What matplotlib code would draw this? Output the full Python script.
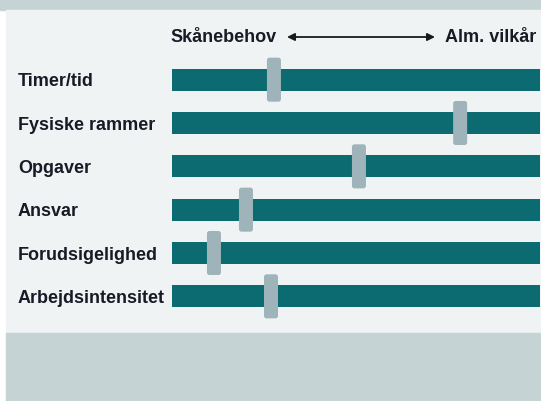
import matplotlib.pyplot as plt
from matplotlib.patches import FancyBboxPatch, Rectangle

categories = ["Timer/tid", "Fysiske rammer", "Opgaver", "Ansvar",
              "Forudsigelighed", "Arbejdsintensitet"]
# slider position: 0 = Skånebehov, 1 = Alm. vilkår
values = [0.277, 0.783, 0.508, 0.201, 0.114, 0.269]
left_label = "Skånebehov"
right_label = "Alm. vilkår"

bar_color = "#0b6b70"
slider_color = "#9fb4ba"
panel_color = "#eff3f4"
band_color = "#c5d3d4"
text_color = "#1a1a26"

plt.rcParams["font.family"] = ["Liberation Sans", "DejaVu Sans"]

W, H = 541, 401
fig = plt.figure(figsize=(W / 100, H / 100), dpi=100, facecolor="white")

# background bands
fig.patches.append(Rectangle((0, (H - 10) / H), 1, 10 / H, transform=fig.transFigure,
                             color=band_color, zorder=-2))
fig.patches.append(Rectangle((6 / W, (H - 333) / H), 1, 323 / H, transform=fig.transFigure,
                             color=panel_color, zorder=-2))
fig.patches.append(Rectangle((6 / W, 0), 1, 68 / H, transform=fig.transFigure,
                             color=band_color, zorder=-2))

ax = fig.add_axes([172 / W, (H - 318) / H, 368 / W, 260 / H])
ax.set_zorder(1)
ax.set_facecolor("none")
n = len(categories)
ypos = list(range(n))
ax.barh(ypos, [1] * n, left=0, height=0.51, color=bar_color, zorder=1)

sw, sh = 14 / 368, 44 / 43.3
aspect = 368 / 43.3
for y, v in zip(ypos, values):
    ax.add_patch(FancyBboxPatch((v - sw / 2, y - sh / 2), sw, sh,
                                boxstyle="round,pad=0,rounding_size=0.007",
                                mutation_aspect=aspect, facecolor=slider_color,
                                edgecolor="none", zorder=2, clip_on=False))

ax.set_xlim(0, 1)
ax.set_ylim(n - 0.5, -0.5)
for s in ax.spines.values():
    s.set_visible(False)
ax.set_xticks([])
ax.set_yticks(ypos)
ax.set_yticklabels(categories, fontsize=13, fontweight="bold", color=text_color,
                   ha="left")
ax.tick_params(axis="y", length=0, pad=154 * 0.72)

# header with double arrow
fig.text(277 / W, (H - 37) / H, left_label, ha="right", va="center",
         fontsize=13, fontweight="bold", color=text_color)
fig.text(445 / W, (H - 37) / H, right_label, ha="left", va="center",
         fontsize=13, fontweight="bold", color=text_color)
ax.annotate("", xy=(435 / W, (H - 37) / H), xytext=(287 / W, (H - 37) / H),
            xycoords="figure fraction", textcoords="figure fraction",
            arrowprops=dict(arrowstyle="<|-|>", color="#1a1a1a", lw=1.3,
                            mutation_scale=11, shrinkA=0, shrinkB=0))

fig.savefig("out.png", dpi=100, facecolor=fig.get_facecolor())
